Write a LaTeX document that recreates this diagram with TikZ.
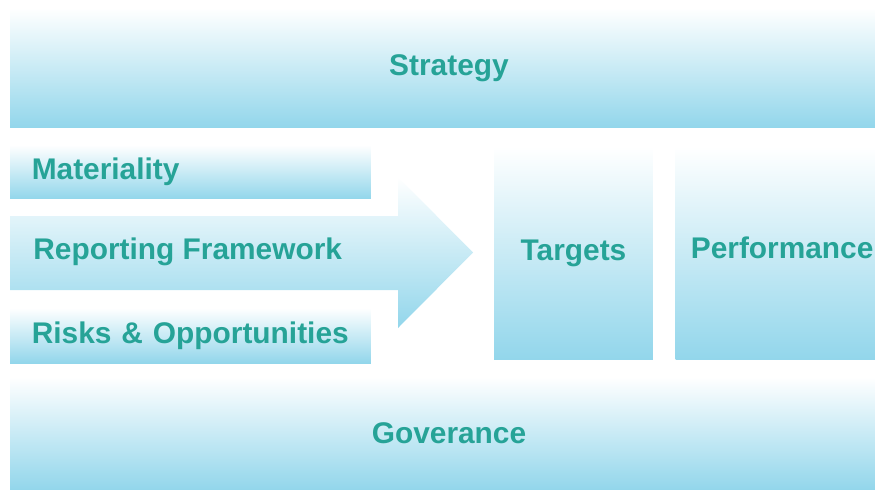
\documentclass[tikz,border=0pt]{standalone}
\usepackage{fontspec}
\setmainfont{Liberation Sans}
\usetikzlibrary{positioning}
\definecolor{bandblue}{RGB}{146,214,235}
\definecolor{labelteal}{RGB}{38,163,151}

\begin{document}
\begin{tikzpicture}[x=0.02cm,y=-0.02cm]
\tikzstyle{band}=[shape=rectangle, top color=white, bottom color=bandblue, minimum width=17.56cm, inner sep=0pt, text=labelteal, font=\fontsize{17}{20}\selectfont\bfseries]
\tikzstyle{strip}=[shape=rectangle, top color=white, bottom color=bandblue, text width=6.35cm, inner xsep=0.435cm, inner ysep=0pt, align=left, text=labelteal, font=\fontsize{17}{20}\selectfont\bfseries]
\tikzstyle{pillar}=[shape=rectangle, top color=white, bottom color=bandblue, minimum height=4.26cm, inner sep=0pt, text=labelteal, font=\fontsize{17}{20}\selectfont\bfseries]
\useasboundingbox (0,0) rectangle (875,490);

\node[band, minimum height=2.4cm] (strategy) at (449,68) {Strategy};
\node[strip, minimum height=1.08cm] (materiality) at (190.5,172) {Materiality};
%\node[strip] (framework) ...
\shade[top color=white, bottom color=bandblue] (10,216) -- (398,216) -- (398,177) -- (473,252.5) -- (398,328) -- (398,290) -- (10,290) -- cycle;
\node[anchor=west, inner sep=0pt, text=labelteal, font=\fontsize{17}{20}\selectfont\bfseries] (framework) at (33,252) {Reporting Framework};
\node[strip, minimum height=1.1cm] (risks) at (190.5,335.5) {Risks \& Opportunities};
\node[pillar, minimum width=3.18cm] (targets) at (573.5,253.5) {Targets};
\node[pillar, minimum width=4.26cm, text depth=0.24cm] (performance) [right=0.44cm of targets] {Performance};
\node[band, minimum height=2.26cm] (governance) at (449,433.5) {Goverance};

\end{tikzpicture}
\end{document}
